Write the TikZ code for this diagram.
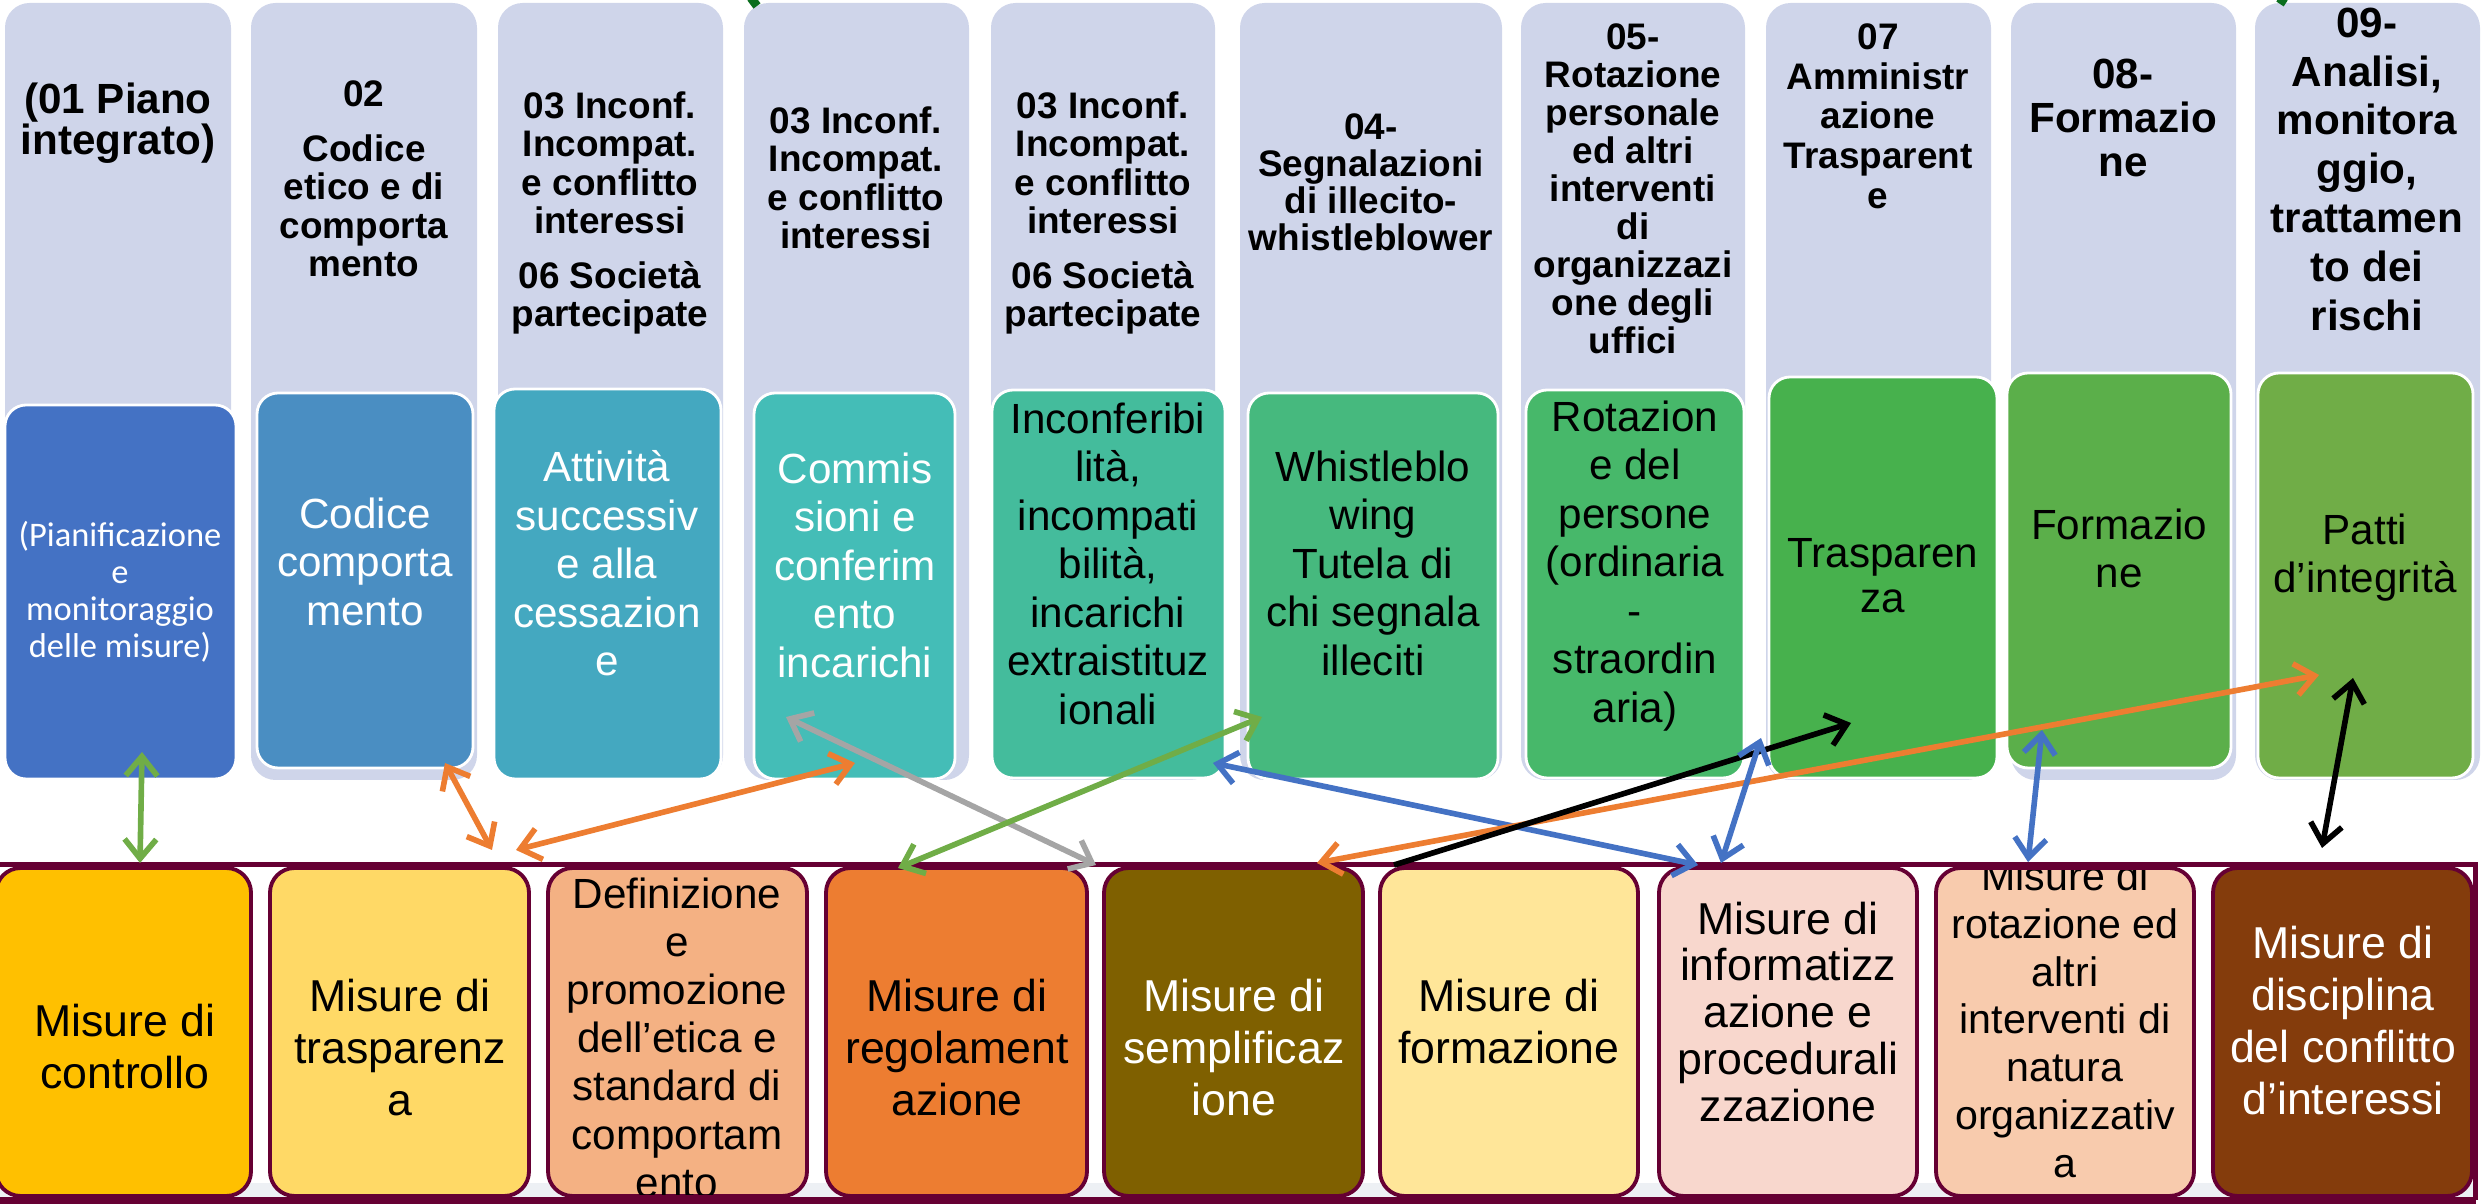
\documentclass[tikz,border=0pt]{standalone}
\usepackage{fontspec}
\setmainfont{Liberation Sans}
\newfontfamily\calibrifont{Carlito}
\usetikzlibrary{arrows.meta}

\definecolor{lavender}{HTML}{CFD5EA}
\definecolor{inA}{HTML}{4472C4}
\definecolor{inB}{HTML}{4A8EC2}
\definecolor{inC}{HTML}{44A8C0}
\definecolor{inD}{HTML}{44BDB7}
\definecolor{inE}{HTML}{44BC9C}
\definecolor{inF}{HTML}{46B97E}
\definecolor{inG}{HTML}{47B86A}
\definecolor{inH}{HTML}{47B14D}
\definecolor{inI}{HTML}{5BAF4A}
\definecolor{inJ}{HTML}{70AD47}
\definecolor{msA}{HTML}{FFC000}
\definecolor{msB}{HTML}{FFD966}
\definecolor{msC}{HTML}{F4B183}
\definecolor{msD}{HTML}{ED7D31}
\definecolor{msE}{HTML}{7F6000}
\definecolor{msF}{HTML}{FFE699}
\definecolor{msG}{HTML}{F8D7CD}
\definecolor{msH}{HTML}{F8CBAD}
\definecolor{msI}{HTML}{843C0C}
\definecolor{maroon}{HTML}{660033}
\definecolor{stripgray}{HTML}{EDF0F4}
\definecolor{lnkgreen}{HTML}{70AD47}
\definecolor{lnkorange}{HTML}{ED7D31}
\definecolor{lnkgray}{HTML}{A5A5A5}
\definecolor{lnkblue}{HTML}{4472C4}
\definecolor{darkgreen}{HTML}{0B6E1E}

\tikzset{
    outerbox/.style={fill=lavender, rounded corners=7pt},
    innerbox/.style={draw=white, line width=0.8pt, rounded corners=6pt},
    misbox/.style={draw=maroon, line width=1.1pt, rounded corners=7pt},
    toptext/.style={anchor=north, align=center, inner sep=0pt,
        font=\bfseries\fontsize{10.5}{10.9}\selectfont},
    intext/.style={anchor=north, align=center, inner sep=0pt,
        font=\fontsize{12}{13.8}\selectfont},
    bottext/.style={anchor=north, align=center, inner sep=0pt,
        font=\fontsize{12.7}{14.8}\selectfont},
    lnk/.style={line width=1.6pt, <->},
}

\begin{document}
\begin{tikzpicture}[x=0.01cm, y=-0.01cm, >={Straight Barb[length=5.5pt,width=9pt]}]
    \useasboundingbox (0,0) rectangle (2484,1204);

    %%top columns
    \fill[outerbox] (5,3) rectangle (231,780);
    \fill[outerbox] (251,3) rectangle (477,780);
    \fill[outerbox] (498,3) rectangle (723,780);
    \fill[outerbox] (744,3) rectangle (969,780);
    \fill[outerbox] (991,3) rectangle (1215,780);
    \fill[outerbox] (1240,3) rectangle (1502,780);
    \fill[outerbox] (1521,3) rectangle (1745,780);
    \fill[outerbox] (1766,3) rectangle (1991,780);
    \fill[outerbox] (2011,3) rectangle (2236,780);
    \fill[outerbox] (2255,3) rectangle (2480,780);

    \draw[innerbox, fill=inA] (5,405) rectangle (236,779);
    \draw[innerbox, fill=inB] (257,393) rectangle (473,768);
    \draw[innerbox, fill=inC] (494,389) rectangle (721,779);
    \draw[innerbox, fill=inD] (754,393) rectangle (955,779);
    \draw[innerbox, fill=inE] (992,390) rectangle (1225,778);
    \draw[innerbox, fill=inF] (1248,393) rectangle (1498,779);
    \draw[innerbox, fill=inG] (1526,390) rectangle (1744,778);
    \draw[innerbox, fill=inH] (1769,377) rectangle (1997,778);
    \draw[innerbox, fill=inI] (2007,373) rectangle (2231,768);
    \draw[innerbox, fill=inJ] (2258,373) rectangle (2473,778);

    \node[toptext, font=\bfseries\fontsize{12}{11.7}\selectfont] (t1) at (118,82) {(01 Piano\\integrato)};
    \node[toptext] (t2) at (364,80) {02\\[4.75pt]Codice\\etico e di\\comporta\\mento};
    \node[toptext] (t3) at (610,91) {03 Inconf.\\Incompat.\\e conflitto\\interessi\\[4.75pt]06 Società\\partecipate};
    \node[toptext] (t4) at (856,106) {03 Inconf.\\Incompat.\\e conflitto\\interessi};
    \node[toptext] (t5) at (1103,91) {03 Inconf.\\Incompat.\\e conflitto\\interessi\\[4.75pt]06 Società\\partecipate};
    \node[toptext, font=\bfseries\fontsize{10.5}{10.5}\selectfont] (t6) at (1371,113) {04-\\Segnalazioni\\di illecito-\\whistleblower};
    \node[toptext, font=\bfseries\fontsize{10.5}{10.8}\selectfont] (t7) at (1633,23) {05-\\Rotazione\\personale\\ed altri\\interventi\\di\\organizzazi\\one degli\\uffici};
    \node[toptext, font=\bfseries\fontsize{10.5}{11.27}\selectfont] (t8) at (1878,23) {07\\Amministr\\azione\\Trasparent\\e};
    \node[toptext, font=\bfseries\fontsize{12}{12.5}\selectfont] (t9) at (2123,58) {08-\\Formazio\\ne};
    \node[toptext, font=\bfseries\fontsize{12}{13.9}\selectfont] (t10) at (2367,7) {09-\\Analisi,\\monitora\\ggio,\\trattamen\\to dei\\rischi};

    \node[intext, text=white, font=\calibrifont\fontsize{9.8}{10.5}\selectfont] (i1) at (120,521) {(Pianificazione\\e\\monitoraggio\\delle misure)};
    \node[intext, text=white] (i2) at (365,497) {Codice\\comporta\\mento};
    \node[intext, text=white] (i3) at (607,450) {Attività\\successiv\\e alla\\cessazion\\e};
    \node[intext, text=white] (i4) at (855,452) {Commis\\sioni e\\conferim\\ento\\incarichi};
    \node[intext] (i5) at (1108,402) {Inconferibi\\lità,\\incompati\\bilità,\\incarichi\\extraistituz\\ionali};
    \node[intext] (i6) at (1373,450) {Whistleblo\\wing\\Tutela di\\chi segnala\\illeciti};
    \node[intext] (i7) at (1635,400) {Rotazion\\e del\\persone\\(ordinaria\\-\\straordin\\aria)};
    \node[intext, font=\fontsize{12}{12.8}\selectfont] (i8) at (1883,538) {Trasparen\\za};
    \node[intext] (i9) at (2119,508) {Formazio\\ne};
    \node[intext] (i10) at (2365,513) {Patti\\d’integrità};

    %%bottom row
    \fill[stripgray] (0,1183) rectangle (2474,1198);
    \draw[misbox, fill=msA] (-4,868) rectangle (251,1196);
    \draw[misbox, fill=msB] (270,868) rectangle (529,1196);
    \draw[misbox, fill=msC] (548,868) rectangle (807,1196);
    \draw[misbox, fill=msD] (826,868) rectangle (1087,1196);
    \draw[misbox, fill=msE] (1104,868) rectangle (1363,1196);
    \draw[misbox, fill=msF] (1380,868) rectangle (1638,1196);
    \draw[misbox, fill=msG] (1659,868) rectangle (1917,1196);
    \draw[misbox, fill=msH] (1936,868) rectangle (2194,1196);
    \draw[misbox, fill=msI] (2213,868) rectangle (2472,1196);

    \begin{scope}
        \clip (0,871) rectangle (2484,1195);
        \node[bottext] (m1) at (125,1003) {Misure di\\controllo};
        \node[bottext] (m2) at (400,978) {Misure di\\trasparenz\\a};
        \node[bottext, font=\fontsize{12}{13.7}\selectfont] (m3) at (677,877) {Definizione\\e\\promozione\\dell’etica e\\standard di\\comportam\\ento};
        \node[bottext] (m4) at (957,978) {Misure di\\regolament\\azione};
        \node[bottext, text=white] (m5) at (1234,978) {Misure di\\semplificaz\\ione};
        \node[bottext] (m6) at (1509,978) {Misure di\\formazione};
        \node[bottext, font=\fontsize{12.7}{13.3}\selectfont] (m7) at (1788,901) {Misure di\\informatizz\\azione e\\procedurali\\zzazione};
        \node[bottext, font=\fontsize{11.7}{13.6}\selectfont] (m8) at (2065,860) {Misure di\\rotazione ed\\altri\\interventi di\\natura\\organizzativ\\a};
        \node[bottext, text=white] (m9) at (2343,925) {Misure di\\disciplina\\del conflitto\\d’interessi};
    \end{scope}

    \draw[maroon, line width=1.4pt] (-10,864.5) to (2475.5,864.5) to (2475.5,1200.5);
    \draw[maroon, line width=2pt] (-10,1200.5) to (2476,1200.5);

    %%links
    \coordinate (ga) at (142,752);   \coordinate (gb) at (140,863);
    \coordinate (oa) at (445,763);   \coordinate (ob) at (492,850);
    \coordinate (oc) at (516,850);   \coordinate (od) at (855,763);
    \coordinate (ya) at (786,717);   \coordinate (yb) at (1096,865);
    \coordinate (gc) at (1262,717);  \coordinate (gd) at (898,868);
    \coordinate (ba) at (1213,763);  \coordinate (bb) at (1698,865);
    \coordinate (oe) at (1317,863);  \coordinate (of) at (2319,675);
    \coordinate (ka) at (1394,865);  \coordinate (kb) at (1851,723);
    \coordinate (bc) at (1721,863);  \coordinate (bd) at (1761,738);
    \coordinate (be) at (2028,862);  \coordinate (bf) at (2042,730);
    \coordinate (kc) at (2353,678);  \coordinate (kd) at (2322,848);

    \draw[lnk, lnkgreen] (ga) to (gb);
    \draw[lnk, lnkorange] (oa) to (ob);
    \draw[lnk, lnkorange] (oc) to (od);
    \draw[lnk, lnkgray] (ya) to (yb);
    \draw[lnk, lnkgreen] (gc) to (gd);
    \draw[lnk, lnkblue] (ba) to (bb);
    \draw[lnk, lnkorange] (oe) to (of);
    \draw[lnk, black, <-] (kb) to (ka);
    \draw[lnk, lnkblue] (bc) to (bd);
    \draw[lnk, lnkblue] (be) to (bf);
    \draw[lnk, black] (kc) to (kd);

    %%cut marks at the top
    \draw[darkgreen, line width=2.5pt] (751,-2) to (757,6);
    \draw[darkgreen, line width=2.5pt] (2284,-2) to (2280,4);
\end{tikzpicture}
\end{document}
